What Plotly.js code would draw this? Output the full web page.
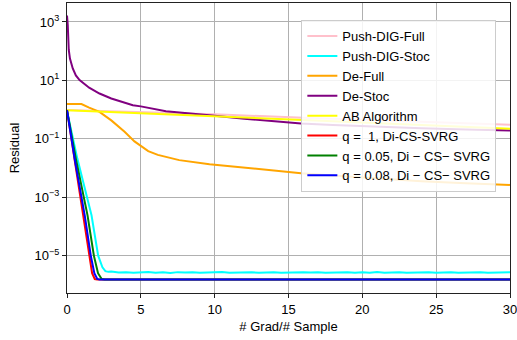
<!DOCTYPE html>
<html>
<head>
<meta charset="utf-8">
<script src="https://cdn.plot.ly/plotly-3.0.1.min.js"></script>
<style>html,body{margin:0;padding:0;background:#fff;}#chart{width:517px;height:340px;}</style>
</head>
<body>
<div id="chart"></div>
<script>
// Series names
const seriesNames = ["Push-DIG-Full", "Push-DIG-Stoc", "De-Full", "De-Stoc", "AB Algorithm",
  "q =  1, Di-CS-SVRG", "q = 0.05, Di \u2212 CS\u2212 SVRG", "q = 0.08, Di \u2212 CS\u2212 SVRG"];

// Push-DIG-Full
const pushFullX = [0, 10, 16, 30];
const pushFullY = [0.977, 0.692, 0.525, 0.30];

// Push-DIG-Stoc (steep drop then noisy plateau)
const pushStocX = [0, 0.7, 1.66, 2.11, 2.4, 2.6, 2.8, 3.0, 3.5, 4.0, 4.5, 5.0, 5.5, 6.0, 6.5, 7.0, 7.5, 8.0, 8.5, 9.0, 9.5,
  10.0, 10.5, 11.0, 11.5, 12.0, 12.5, 13.0, 13.5, 14.0, 14.5, 15.0, 15.5, 16.0, 16.5, 17.0, 17.5, 18.0, 18.5, 19.0, 19.5,
  20.0, 20.5, 21.0, 21.5, 22.0, 22.5, 23.0, 23.5, 24.0, 24.5, 25.0, 25.5, 26.0, 26.5, 27.0, 27.5, 28.0, 28.5, 29.0, 29.5, 30.0];
const pushStocY = [0.89, 0.021, 2.4e-4, 1.0e-5, 4.0e-6, 2.95e-6, 2.78e-6, 2.85e-6, 2.62e-6, 2.70e-6, 2.58e-6, 2.66e-6, 2.74e-6, 2.60e-6, 2.68e-6, 2.56e-6, 2.72e-6, 2.63e-6, 2.69e-6, 2.58e-6, 2.66e-6,
  2.61e-6, 2.73e-6, 2.59e-6, 2.67e-6, 2.62e-6, 2.70e-6, 2.57e-6, 2.65e-6, 2.71e-6, 2.60e-6, 2.66e-6, 2.58e-6, 2.69e-6, 2.63e-6, 2.72e-6, 2.59e-6, 2.66e-6, 2.62e-6, 2.70e-6, 2.57e-6,
  2.67e-6, 2.61e-6, 2.73e-6, 2.60e-6, 2.64e-6, 2.70e-6, 2.58e-6, 2.66e-6, 2.63e-6, 2.71e-6, 2.59e-6, 2.65e-6, 2.69e-6, 2.60e-6, 2.67e-6, 2.62e-6, 2.72e-6, 2.58e-6, 2.66e-6, 2.63e-6, 2.68e-6];

// De-Full
const deFullX = [0, 0.98, 1.5, 2.2, 3.0, 3.9, 4.57, 5.02, 5.5, 6.15, 7.6, 9.65, 12, 14, 15.85, 18, 21, 24, 27, 30];
const deFullY = [1.55, 1.55, 1.17, 0.832, 0.427, 0.174, 0.0813, 0.0550, 0.038, 0.0282, 0.0186, 0.0135, 0.0102, 0.00813, 0.00661, 0.0055, 0.00437, 0.00355, 0.00302, 0.00263];

// De-Stoc
const deStocX = [0, 0.05, 0.12, 0.2, 0.39, 0.6, 0.85, 1.5, 2.2, 3, 4.46, 5, 6.7, 9, 10, 12, 14, 15.85, 18, 21, 24, 27, 30];
const deStocY = [1660, 794, 110, 56, 25.7, 14.8, 10.2, 5.62, 3.55, 2.40, 1.41, 1.29, 0.871, 0.661, 0.617, 0.490, 0.398, 0.331, 0.295, 0.257, 0.229, 0.209, 0.191];

// AB Algorithm
const abX = [0, 10, 16, 30];
const abY = [0.955, 0.603, 0.437, 0.219];

// q = 1, Di-CS-SVRG
const q1X = [0, 0.5, 1.1, 1.48, 1.7, 1.88, 2.05, 30];
const q1Y = [0.955, 0.02, 2.4e-4, 1.0e-5, 2.5e-6, 1.58e-6, 1.51e-6, 1.51e-6];

// q = 0.05
const q005X = [0, 0.6, 1.39, 1.82, 2.1, 2.35, 2.55, 30];
const q005Y = [0.955, 0.021, 2.4e-4, 1.0e-5, 2.5e-6, 1.58e-6, 1.51e-6, 1.51e-6];

// q = 0.08
const q008X = [0, 0.53, 1.2, 1.61, 1.85, 2.05, 2.2, 30];
const q008Y = [0.955, 0.019, 2.4e-4, 1.0e-5, 2.5e-6, 1.58e-6, 1.51e-6, 1.51e-6];

const colors = ["#FFC0CB", "#00FFFF", "#FFA500", "#800080", "#FFFF00", "#FF0000", "#008000", "#0000FF"];

const xs = [pushFullX, pushStocX, deFullX, deStocX, abX, q1X, q005X, q008X];
const ys = [pushFullY, pushStocY, deFullY, deStocY, abY, q1Y, q005Y, q008Y];

const xTicks = [0, 5, 10, 15, 20, 25, 30];
const yTickVals = [1e-5, 1e-3, 1e-1, 1e1, 1e3];
const yTickText = ["10<sup>\u22125</sup>", "10<sup>\u22123</sup>", "10<sup>\u22121</sup>", "10<sup>1</sup>", "10<sup>3</sup>"];

const traces = seriesNames.map((n, i) => ({
  x: xs[i], y: ys[i], name: n, type: "scatter", mode: "lines",
  line: {color: colors[i], width: 2}
}));

const fam = "Liberation Sans, Arial, sans-serif";

const layout = {
  width: 517, height: 340,
  margin: {l: 67, r: 7, t: 3, b: 47},
  paper_bgcolor: "#fff", plot_bgcolor: "#fff",
  font: {family: fam, size: 12, color: "#000"},
  showlegend: true,
  legend: {
    x: 0.529, y: 0.941, xanchor: "left", yanchor: "top",
    bgcolor: "rgba(255,255,255,0.85)", bordercolor: "#cccccc", borderwidth: 1,
    font: {family: fam, size: 13, color: "#000"}
  },
  xaxis: {
    range: [0, 30], tickvals: xTicks, ticktext: xTicks.map(String),
    showgrid: true, gridcolor: "#b0b0b0", gridwidth: 1,
    showline: true, linecolor: "#222", linewidth: 1, mirror: true,
    ticks: "outside", ticklen: 4, tickcolor: "#222", zeroline: false,
    tickfont: {family: fam, size: 13}, ticklabeloverflow: "allow",
    title: {text: "# Grad/# Sample", font: {family: fam, size: 13}, standoff: 6}
  },
  yaxis: {
    type: "log", range: [-6.28, 3.65], tickvals: yTickVals, ticktext: yTickText,
    showgrid: true, gridcolor: "#b0b0b0", gridwidth: 1,
    showline: true, linecolor: "#222", linewidth: 1, mirror: true,
    ticks: "outside", ticklen: 4, tickcolor: "#222", zeroline: false,
    tickfont: {family: fam, size: 13},
    title: {text: "Residual", font: {family: fam, size: 13}, standoff: 12}
  }
};

Plotly.newPlot("chart", traces, layout, {displayModeBar: false, staticPlot: true});
</script>
</body>
</html>
